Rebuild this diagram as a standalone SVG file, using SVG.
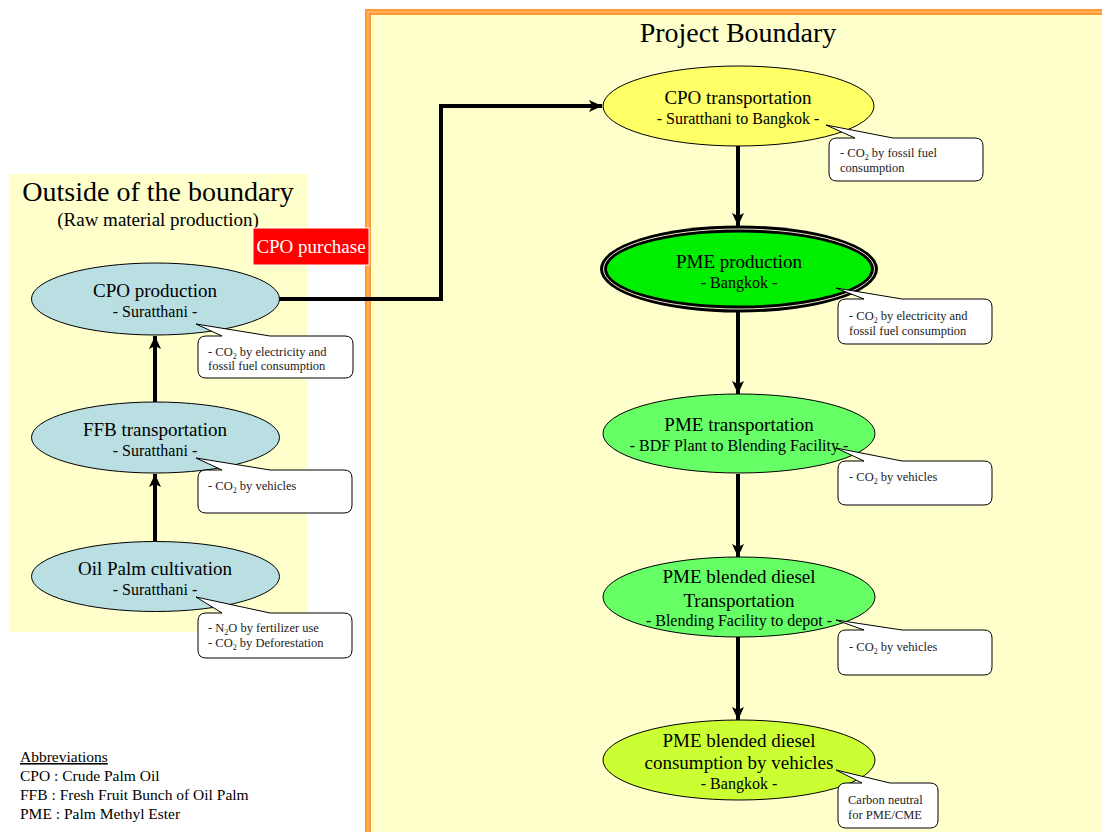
<svg xmlns="http://www.w3.org/2000/svg" width="1102" height="832" viewBox="0 0 1102 832">
<style>
text{font-family:"Liberation Serif","Times New Roman",serif;fill:#000}
.t{font-size:19px;text-anchor:middle}
.s{font-size:16px;text-anchor:middle}
.c{font-size:12.5px;fill:#222}
.ab{font-size:15.5px}
.sub{font-size:8px}
.cl{fill:#fff;stroke:#000;stroke-width:1}
.lf{fill:#B9DFE3;stroke:#000;stroke-width:1}
.ln{fill:none;stroke:#000;stroke-width:4}
</style>
<defs>
<marker id="ah" markerUnits="userSpaceOnUse" markerWidth="14" markerHeight="12" refX="13" refY="6" orient="auto">
<path d="M0,0 L13,6 L0,12 L3,6 Z" fill="#000"/>
</marker>
</defs>
<rect width="1102" height="832" fill="#fff"/>
<g id="outside-region">
<rect x="9" y="174" width="298" height="458" fill="#FFFFCC"/>
<text x="158" y="201" style="font-size:28px;text-anchor:middle">Outside of the boundary</text>
<text x="158" y="226" class="t">(Raw material production)</text>
</g>
<g id="project-boundary">
<rect x="368" y="12" width="900" height="900" fill="#FFFFCC" stroke="#FF9933" stroke-width="6"/>
<rect x="368" y="12" width="900" height="900" fill="none" stroke="#FFC58A" stroke-width="1"/>
<text x="738" y="42" style="font-size:28px;text-anchor:middle">Project Boundary</text>
</g>
<g id="connectors">
<line class="ln" x1="155" y1="402" x2="155" y2="336" marker-end="url(#ah)"/>
<line class="ln" x1="155" y1="541" x2="155" y2="474" marker-end="url(#ah)"/>
<polyline class="ln" points="279,299 441,299 441,106 602,106" marker-end="url(#ah)"/>
<line class="ln" x1="738" y1="146" x2="738" y2="226" marker-end="url(#ah)"/>
<line class="ln" x1="738" y1="312" x2="738" y2="394" marker-end="url(#ah)"/>
<line class="ln" x1="738" y1="474" x2="738" y2="557" marker-end="url(#ah)"/>
<line class="ln" x1="738" y1="637" x2="738" y2="720" marker-end="url(#ah)"/>
</g>
<g id="cpo-purchase">
<rect x="253" y="228" width="116" height="37" fill="#FF0000" stroke="#fff" stroke-width="1"/>
<text x="311" y="253" class="t" style="fill:#fff">CPO purchase</text>
</g>
<g id="cpo-production">
<ellipse class="lf" cx="155.5" cy="299" rx="124" ry="36"/>
<text x="155" y="297" class="t">CPO production</text>
<text x="155" y="317" class="s">- Suratthani -</text>
<path class="cl" d="M206,336 L222,336 L196,324 L270,336 L345,336 Q353,336 353,344 L353,370 Q353,378 345,378 L206,378 Q198,378 198,370 L198,344 Q198,336 206,336 Z"/>
<text x="208" y="356" class="c">- CO<tspan class="sub" dy="3">2</tspan><tspan dy="-3"> by electricity and</tspan></text>
<text x="208" y="370" class="c">fossil fuel consumption</text>
</g>
<g id="ffb-transportation">
<ellipse class="lf" cx="155.5" cy="437.5" rx="124" ry="35.5"/>
<text x="155" y="436" class="t">FFB transportation</text>
<text x="155" y="456" class="s">- Suratthani -</text>
<path class="cl" d="M206,470 L222,470 L196,458 L270,470 L344,470 Q352,470 352,478 L352,505 Q352,513 344,513 L206,513 Q198,513 198,505 L198,478 Q198,470 206,470 Z"/>
<text x="208" y="490" class="c">- CO<tspan class="sub" dy="3">2</tspan><tspan dy="-3"> by vehicles</tspan></text>
</g>
<g id="oil-palm-cultivation">
<ellipse class="lf" cx="155.5" cy="576.5" rx="124" ry="35"/>
<text x="155" y="575" class="t">Oil Palm cultivation</text>
<text x="155" y="595" class="s">- Suratthani -</text>
<path class="cl" d="M206,613 L222,613 L196,597 L270,613 L344,613 Q352,613 352,621 L352,650 Q352,658 344,658 L206,658 Q198,658 198,650 L198,621 Q198,613 206,613 Z"/>
<text x="208" y="632" class="c">- N<tspan class="sub" dy="3">2</tspan><tspan dy="-3">O by fertilizer use</tspan></text>
<text x="208" y="647" class="c">- CO<tspan class="sub" dy="3">2</tspan><tspan dy="-3"> by Deforestation</tspan></text>
</g>
<g id="abbreviations">
<text x="20" y="762" class="ab" text-decoration="underline">Abbreviations</text>
<text x="20" y="781" class="ab">CPO : Crude Palm Oil</text>
<text x="20" y="800" class="ab">FFB : Fresh Fruit Bunch of Oil Palm</text>
<text x="20" y="819" class="ab">PME : Palm Methyl Ester</text>
</g>
<g id="cpo-transportation">
<ellipse cx="738.5" cy="106" rx="135.5" ry="40" fill="#FFFF66" stroke="#000" stroke-width="1"/>
<text x="738" y="104" class="t">CPO transportation</text>
<text x="738" y="124" class="s">- Suratthani to Bangkok -</text>
<path class="cl" d="M837,138 L855,138 L826,125 L893,138 L975,138 Q983,138 983,146 L983,173 Q983,181 975,181 L837,181 Q829,181 829,173 L829,146 Q829,138 837,138 Z"/>
<text x="840" y="157" class="c">- CO<tspan class="sub" dy="3">2</tspan><tspan dy="-3"> by fossil fuel</tspan></text>
<text x="840" y="172" class="c">consumption</text>
</g>
<g id="pme-production">
<ellipse cx="739" cy="269" rx="139" ry="43.5" fill="#000"/>
<ellipse cx="739" cy="269" rx="135.5" ry="40" fill="none" stroke="#E8E8C8" stroke-width="1"/>
<ellipse cx="739" cy="269" rx="133" ry="37.5" fill="#00EE00" stroke="#000" stroke-width="2"/>
<text x="739" y="268" class="t">PME production</text>
<text x="739" y="288" class="s">- Bangkok -</text>
<path class="cl" d="M846,299 L864,299 L836,288 L902,299 L984,299 Q992,299 992,307 L992,336 Q992,344 984,344 L846,344 Q838,344 838,336 L838,307 Q838,299 846,299 Z"/>
<text x="849" y="320" class="c">- CO<tspan class="sub" dy="3">2</tspan><tspan dy="-3"> by electricity and</tspan></text>
<text x="849" y="335" class="c">fossil fuel consumption</text>
</g>
<g id="pme-transportation">
<ellipse cx="739" cy="433.5" rx="136" ry="39.5" fill="#66FF66" stroke="#000" stroke-width="1"/>
<text x="739" y="431" class="t">PME transportation</text>
<text x="739" y="451" class="s">- BDF Plant to Blending Facility -</text>
<path class="cl" d="M846,461 L864,461 L836,448 L902,461 L984,461 Q992,461 992,469 L992,497 Q992,505 984,505 L846,505 Q838,505 838,497 L838,469 Q838,461 846,461 Z"/>
<text x="849" y="481" class="c">- CO<tspan class="sub" dy="3">2</tspan><tspan dy="-3"> by vehicles</tspan></text>
</g>
<g id="pme-blended-transportation">
<ellipse cx="739" cy="597" rx="136" ry="40" fill="#66FF66" stroke="#000" stroke-width="1"/>
<text x="739" y="583" class="t">PME blended diesel</text>
<text x="739" y="607" class="t">Transportation</text>
<text x="739" y="626" class="s">- Blending Facility to depot -</text>
<path class="cl" d="M846,630 L864,630 L836,620 L902,630 L984,630 Q992,630 992,638 L992,667 Q992,675 984,675 L846,675 Q838,675 838,667 L838,638 Q838,630 846,630 Z"/>
<text x="849" y="651" class="c">- CO<tspan class="sub" dy="3">2</tspan><tspan dy="-3"> by vehicles</tspan></text>
</g>
<g id="pme-blended-consumption">
<ellipse cx="739" cy="760" rx="136" ry="40" fill="#CCFF33" stroke="#000" stroke-width="1"/>
<text x="739" y="747" class="t">PME blended diesel</text>
<text x="739" y="769" class="t">consumption by vehicles</text>
<text x="739" y="789" class="s">- Bangkok -</text>
<path class="cl" d="M846,783 L862,783 L836,770 L890,783 L930,783 Q938,783 938,791 L938,820 Q938,828 930,828 L846,828 Q838,828 838,820 L838,791 Q838,783 846,783 Z"/>
<text x="848" y="804" class="c">Carbon neutral</text>
<text x="848" y="819" class="c">for PME/CME</text>
</g>
</svg>
